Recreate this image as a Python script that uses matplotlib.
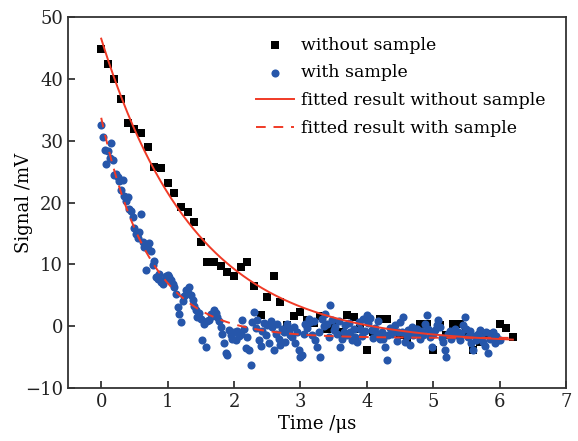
import numpy as np
import matplotlib
matplotlib.use("Agg")
import matplotlib.pyplot as plt

plt.rcParams['font.family'] = ['DejaVu Serif']
plt.rcParams['mathtext.fontset'] = 'dejavuserif'

# signal without sample (black squares), one point every 0.1 us
sig_without = [44.8, 42.4, 40.0, 36.8, 32.8, 31.9, 31.2, 28.9, 25.8, 25.5,
               23.2, 21.6, 19.3, 18.5, 16.9, 13.6, 10.4, 10.4, 9.7, 8.8,
               8.1, 9.6, 10.4, 6.5, 1.8, 4.7, 8.1, 3.9, 0.2, 1.6,
               2.3, 1.0, 0.5, 1.6, -0.5, 0.0, -1.0, 1.8, 1.5, -0.5,
               -3.9, -1.0, 1.2, 1.2, -0.5, -1.5, -2.0, -1.0, 0.4, 0.4,
               -3.8, 0.2, -1.5, 0.4, 0.4, -1.0, -3.8, -2.5, -1.5, -1.2,
               0.4, -0.3, -1.8]
t_without = np.linspace(0, 6.2, len(sig_without))

# signal with sample (blue circles), one point every 0.025 us
sig_with = [32.5, 30.6, 28.5, 26.2, 28.4, 27.2, 29.6, 26.8, 24.4, 24.6,
            24.2, 23.5, 22.1, 23.6, 21.0, 20.2, 20.9, 19.0, 18.7, 17.6,
            15.8, 14.9, 14.2, 15.3, 18.2, 13.6, 12.8, 9.1, 12.4, 13.4,
            12.2, 9.9, 10.6, 8.0, 7.6, 8.4, 7.2, 6.9, 7.5, 8.1,
            8.3, 7.9, 7.4, 6.9, 6.4, 5.2, 3.1, 2.0, 0.7, 4.0,
            4.8, 5.9, 5.3, 6.4, 5.0, 4.2, 3.3, 2.6, 1.5, 2.2,
            1.2, -2.3, 0.4, -3.3, 0.9, 1.0, 2.0, 1.6, 2.6, 2.2,
            1.5, 0.8, -0.1, -1.2, -2.8, -4.4, -4.7, -0.6, -1.5, -2.0,
            -1.0, -2.3, -0.8, -1.6, -1.2, 1.0, -0.5, -3.5, -1.7, -3.9,
            -6.2, 0.6, 2.3, -0.3, 1.0, -2.2, -3.2, -0.8, 0.5, -1.5,
            0.2, -2.8, 0.9, -0.1, -3.8, -1.2, 0.4, -2.0, -3.0, -0.5,
            -1.0, -2.5, 0.3, -0.6, -1.4, -1.7, -0.2, -2.8, -1.0, -3.9,
            -5.0, -4.6, -1.2, 0.4, -0.3, 1.1, 0.6, -1.5, 0.9, -2.2,
            -3.3, -1.0, -5.0, 1.2, 0.1, 2.0, 0.4, -1.7, 3.4, 1.0,
            -0.6, -0.1, -1.2, 0.8, -3.3, -2.0, -0.9, 0.2, -1.5, 0.5,
            -1.0, -2.3, -0.5, -1.8, -2.6, 0.7, -0.4, -1.6, 1.2, -0.8,
            1.8, 0.5, 1.4, -0.6, -1.9, -0.3, -1.2, 0.8, -2.0, -0.9,
            -2.0, -3.4, -5.5, -1.5, -0.3, -1.2, -0.6, 0.2, -2.4, -1.0,
            0.6, -0.9, 1.5, -2.5, -1.6, -0.7, -3.0, -0.2, -1.4, -0.5,
            -0.5, -1.3, -2.0, -0.8, -1.5, 0.3, 1.8, -0.4, -1.7, -3.3,
            -1.2, -0.6, 0.2, 1.0, -0.2, -1.9, -2.6, -3.8, -5.0, -1.3,
            -0.8, -2.1, -1.0, -0.5, -1.4, -0.9, -2.3, -1.1, 0.2, 1.5,
            -0.4, -1.7, -0.8, -2.8, -3.9, -1.6, -2.2, -1.2, -0.6, -1.8,
            -2.6, -3.2, -1.0, -4.4, -2.1, -1.4, -0.9, -2.7, -1.6, -2.3,
            -2.3]
t_with = np.linspace(0, 6.0, len(sig_with))

# exponential fit parameters: amplitude, decay time (us), offset
fit_without = (49.3, 1.42, -2.8)
fit_with = (35.6, 0.72, -1.9)

t_fit = np.linspace(0, 6.2, 300)
y_fit_without = fit_without[0] * np.exp(-t_fit / fit_without[1]) + fit_without[2]
y_fit_with = fit_with[0] * np.exp(-t_fit / fit_with[1]) + fit_with[2]

red = '#f03a26'

fig = plt.figure(figsize=(5.78, 4.41), dpi=100)
ax = fig.add_axes([68 / 578, 1 - 388 / 441, 498 / 578, 371 / 441])

ax.scatter(t_without, sig_without, marker='s', s=38, color='black', linewidths=0,
           label='without sample', zorder=2)
ax.scatter(t_with, sig_with, marker='o', s=34, color='#2656aa', linewidths=0,
           label='with sample', zorder=3)
ax.plot(t_fit, y_fit_without, '-', color=red, lw=1.4,
        label='fitted result without sample', zorder=4)
ax.plot(t_fit, y_fit_with, '--', color=red, lw=1.4, dashes=(5, 4),
        label='fitted result with sample', zorder=4)

ax.set_xlim(-0.5, 7)
ax.set_ylim(-10, 50)
ax.set_xticks(range(0, 8))
ax.set_yticks(range(-10, 51, 10))
ax.set_yticklabels(['\u221210' if v < 0 else str(v) for v in range(-10, 51, 10)])
ax.tick_params(direction='in', length=5, width=1.2, labelsize=13, colors='#222222')
for sp in ax.spines.values():
    sp.set_linewidth(1.3)
    sp.set_color('#333333')

ax.set_xlabel('Time /\u03bcs', fontsize=13, labelpad=3)
ax.set_ylabel('Signal /mV', fontsize=13, labelpad=-6)

ax.legend(loc='upper left', bbox_to_anchor=(0.378, 0.947), frameon=False,
          fontsize=12.5, handlelength=2.2, handletextpad=0.4, labelspacing=0.62,
          borderpad=0, borderaxespad=0, markerscale=1.0)

fig.savefig('out.png', dpi=100)
